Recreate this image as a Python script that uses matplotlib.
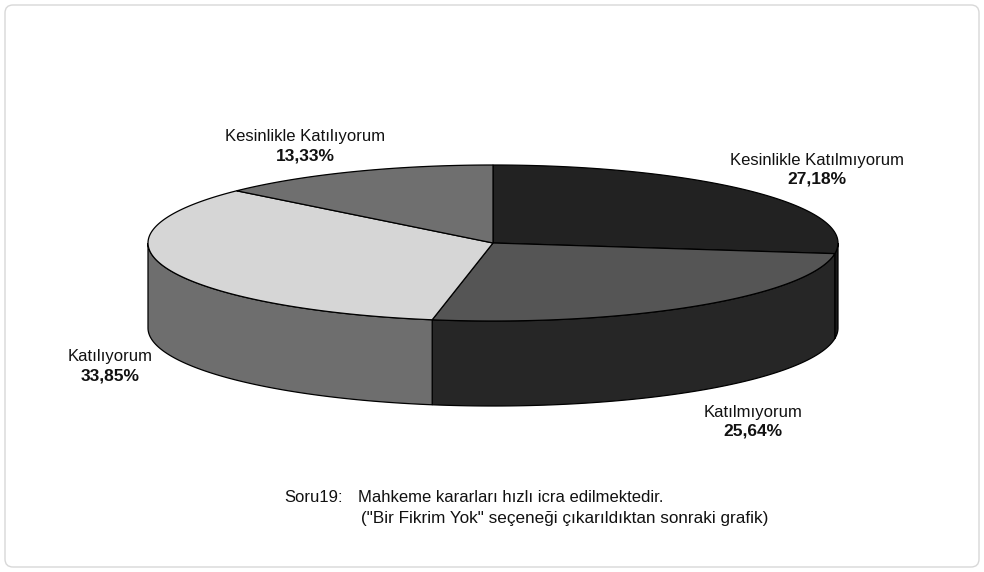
import numpy as np
import matplotlib.pyplot as plt
from matplotlib.patches import Polygon, FancyBboxPatch

# slice data, clockwise from 12 o'clock
labels = ['Kesinlikle Katılmıyorum', 'Katılmıyorum', 'Katılıyorum', 'Kesinlikle Katılıyorum']
values = [27.18, 25.64, 33.85, 13.33]
top_colors = ['#222222', '#555555', '#d6d6d6', '#6f6f6f']
side_colors = ['#1a1a1a', '#262626', '#6e6e6e', '#4a4a4a']
label_pos = [(817, 160), (753, 412), (110, 357), (305, 137)]

caption_tag = 'Soru19:'
caption1 = 'Mahkeme kararları hızlı icra edilmektedir.'
caption2 = '("Bir Fikrim Yok" seçeneği çıkarıldıktan sonraki grafik)'

plt.rcParams['font.family'] = ['Liberation Sans', 'DejaVu Sans']

W, H = 984, 572
fig = plt.figure(figsize=(W / 100, H / 100), dpi=100)
ax = fig.add_axes([0, 0, 1, 1])
ax.set_xlim(0, W)
ax.set_ylim(H, 0)
ax.axis('off')

# rounded frame
ax.add_patch(FancyBboxPatch((5, 5), W - 10, H - 10, boxstyle='round,pad=0,rounding_size=8',
                            fc='white', ec='#d8d8d8', lw=1))

cx, cy, a, b, depth = 493, 243, 345, 78, 85


def pt(theta, dy=0):
    # theta in degrees, clockwise from top
    t = np.radians(theta)
    return cx + a * np.sin(t), cy - b * np.cos(t) + dy


bounds = np.concatenate([[0], np.cumsum(values) / sum(values) * 360])

# side walls (front half only: 90..270)
for i in range(len(values)):
    lo, hi = max(bounds[i], 90), min(bounds[i + 1], 270)
    if hi <= lo:
        continue
    th = np.linspace(lo, hi, 80)
    upper = [pt(t) for t in th]
    lower = [pt(t, depth) for t in th[::-1]]
    ax.add_patch(Polygon(upper + lower, closed=True, fc=side_colors[i], ec='black', lw=0.9))

# top face
for i in range(len(values)):
    th = np.linspace(bounds[i], bounds[i + 1], 120)
    verts = [(cx, cy)] + [pt(t) for t in th]
    ax.add_patch(Polygon(verts, closed=True, fc=top_colors[i], ec='black', lw=0.9))

# labels
for lab, val, (x, y) in zip(labels, values, label_pos):
    ax.text(x, y, lab, ha='center', va='center', fontsize=12, color='#111111')
    ax.text(x, y + 19, f'{val:.2f}%'.replace('.', ','), ha='center', va='center',
            fontsize=12.5, fontweight='bold', color='#111111')

# caption, second part sits on a tab stop
ax.text(284, 497, caption_tag, ha='left', va='center', fontsize=12, color='#111111')
ax.text(358, 497, caption1, ha='left', va='center', fontsize=12, color='#111111')
ax.text(361, 519, caption2, ha='left', va='center', fontsize=12.3, color='#111111')

fig.savefig('out.png', dpi=100)
